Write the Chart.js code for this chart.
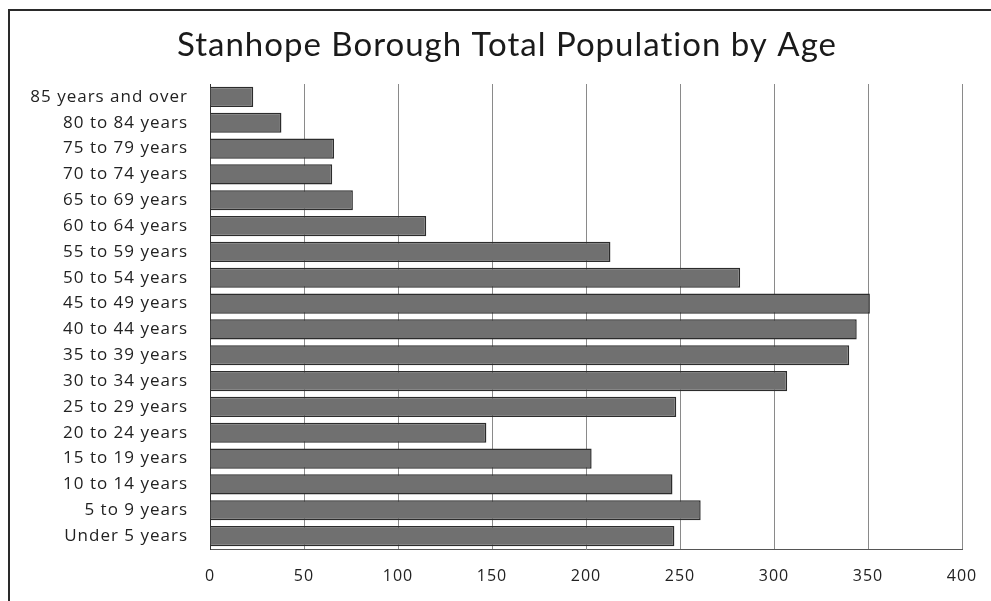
<!DOCTYPE html>
<html>
<head>
<meta charset="utf-8">
<script src="https://cdn.jsdelivr.net/npm/chart.js@4.4.1/dist/chart.umd.min.js"></script>
<style>
  html, body { margin: 0; padding: 0; background: #fff; }
  #wrap { position: relative; width: 991px; height: 601px; }
</style>
</head>
<body>
<div id="wrap"><canvas id="c" width="991" height="601"></canvas></div>
<script>
// Age groups, youngest first (drawn bottom to top)
const ageGroups = [
  'Under 5 years', '5 to 9 years', '10 to 14 years', '15 to 19 years',
  '20 to 24 years', '25 to 29 years', '30 to 34 years', '35 to 39 years',
  '40 to 44 years', '45 to 49 years', '50 to 54 years', '55 to 59 years',
  '60 to 64 years', '65 to 69 years', '70 to 74 years', '75 to 79 years',
  '80 to 84 years', '85 years and over'
];

// Total population in each age group
const population = [
  247, 261, 246, 203,
  147, 248, 307, 340,
  344, 351, 282, 213,
  115, 76, 65, 66,
  38, 23
];

// Value axis ticks
const axisTicks = [0, 50, 100, 150, 200, 250, 300, 350, 400];

const chartTitle = 'Stanhope Borough Total Population by Age';
const TITLE_FONT = 'Lato, "Open Sans", sans-serif';
const LABEL_FONT = '"Open Sans", Lato, sans-serif';

// Slightly loose letter spacing for all chart text
const spacingPlugin = {
  id: 'spacing',
  beforeUpdate(chart) { chart.ctx.letterSpacing = '1px'; },
  beforeDraw(chart) { chart.ctx.letterSpacing = '1px'; }
};

// Frame around the chart and the heading, centred over the plot
const framePlugin = {
  id: 'frame',
  beforeDraw(chart) {
    const ctx = chart.ctx;
    ctx.save();
    ctx.strokeStyle = '#2a2a2a';
    ctx.lineWidth = 2;
    ctx.beginPath();
    ctx.moveTo(9, 601);
    ctx.lineTo(9, 10);
    ctx.lineTo(991, 10);
    ctx.stroke();

    ctx.letterSpacing = '1px';
    ctx.fillStyle = '#1a1a1a';
    ctx.font = '33px ' + TITLE_FONT;
    ctx.textAlign = 'center';
    ctx.textBaseline = 'middle';
    ctx.fillText(chartTitle, 507, 45);
    ctx.restore();
  }
};

new Chart(document.getElementById('c'), {
  type: 'bar',
  data: {
    labels: ageGroups,
    datasets: [{
      data: population,
      backgroundColor: '#707070',
      borderColor: '#2c2c2c',
      borderWidth: 1.5,
      barPercentage: 0.78,
      categoryPercentage: 1.0
    }]
  },
  options: {
    indexAxis: 'y',
    responsive: false,
    animation: false,
    layout: { padding: { left: 10, right: 29, top: 84, bottom: 16 } },
    plugins: {
      legend: { display: false },
      tooltip: { enabled: false },
      title: { display: false }
    },
    scales: {
      x: {
        min: axisTicks[0],
        max: axisTicks[axisTicks.length - 1],
        afterBuildTicks(scale) {
          scale.ticks = axisTicks.map(v => ({ value: v }));
        },
        afterFit(scale) {
          scale.height = 36;
          scale.paddingLeft = 0;
          scale.paddingRight = 0;
        },
        grid: { color: '#8a8a8a', lineWidth: 1, drawTicks: false },
        border: { display: true, color: '#555555', width: 1 },
        ticks: {
          color: '#222',
          padding: 18,
          font: { family: LABEL_FONT, size: 16 }
        }
      },
      y: {
        reverse: true,
        grid: { display: false, drawTicks: false },
        border: { display: true, color: '#333333', width: 1 },
        afterFit(scale) { scale.width = 200; },
        ticks: {
          color: '#222',
          padding: 22,
          font: { family: LABEL_FONT, size: 17 }
        }
      }
    }
  },
  plugins: [spacingPlugin, framePlugin]
});
</script>
</body>
</html>
